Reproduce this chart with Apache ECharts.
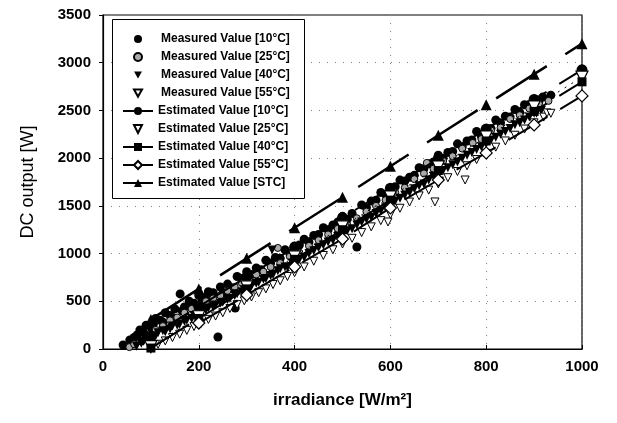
<!DOCTYPE html>
<html>
<head>
<meta charset="utf-8">
<script src="https://cdn.jsdelivr.net/npm/echarts@6/dist/echarts.min.js"></script>
<style>html,body{margin:0;padding:0;background:#fff}#c{width:617px;height:423px}</style>
</head>
<body>
<div id="c"></div>
<script>
var xTicks = [0, 200, 400, 600, 800, 1000];
var yTicks = [0, 500, 1000, 1500, 2000, 2500, 3000, 3500];

var meas10 = [[42,42],[56,94],[71,147],[77,200],[90,250],[100,230],[110,320],[120,300],[130,380],[140,350],[150,420],[161,577],[170,440],[180,500],[190,480],[200,560],[210,540],[220,600],[230,590],[240,126],[245,650],[260,680],[276,430],[280,760],[290,740],[300,810],[320,850],[340,930],[360,960],[380,1040],[400,1080],[420,1150],[440,1190],[460,1270],[480,1300],[500,1390],[520,1420],[530,1069],[540,1510],[560,1550],[580,1640],[600,1680],[620,1770],[640,1800],[660,1900],[680,1940],[700,2030],[720,2060],[740,2150],[760,2180],[780,2280],[800,2310],[820,2400],[840,2440],[860,2510],[880,2560],[900,2620],[918,2640],[935,2660],
  [65,120],[85,170],[105,260],[125,280],[145,330],[165,400],[185,450],[205,480],[225,530],[250,580],[270,640],[310,780],[330,830],[350,900],[370,950],[390,1000],[410,1090],[430,1120],[450,1200],[470,1250],[490,1330],[510,1360],[550,1480],[570,1560],[590,1620],[610,1700],[630,1760],[650,1820],[670,1890],[690,1960],[710,2000],[730,2070],[750,2120],[770,2190],[790,2230],[810,2310],[830,2370],[850,2430],[870,2480],[890,2560],[910,2590]];

var meas25 = [[55,20],[65,50],[80,80],[95,130],[110,200],[125,240],[140,300],[155,330],[170,380],[185,420],[200,460],[215,500],[230,530],[245,560],[260,610],[275,650],[290,690],[305,720],[320,780],[335,810],[350,860],[365,1059],[370,900],[390,970],[410,1010],[430,1080],[450,1140],[470,1200],[490,1260],[510,1300],[530,1370],[550,1440],[570,1500],[590,1560],[610,1640],[630,1690],[650,1780],[676,1950],[670,1840],[690,1890],[710,1970],[730,2020],[750,2100],[772,2159],[790,2200],[810,2290],[830,2320],[850,2410],[870,2450],[890,2520],[910,2570],[930,2600]];

var meas40 = [[70,30],[85,80],[100,120],[115,170],[130,180],[145,240],[160,260],[175,300],[190,350],[205,380],[220,430],[235,460],[250,490],[265,530],[280,580],[295,620],[310,660],[325,700],[340,740],[353,1037],[355,780],[370,840],[385,860],[400,910],[420,960],[440,1030],[460,1090],[480,1140],[500,1210],[520,1260],[540,1330],[560,1380],[580,1450],[600,1510],[620,1580],[640,1640],[660,1710],[680,1770],[700,1840],[720,1900],[740,1960],[760,2030],[780,2090],[800,2150],[820,2220],[840,2280],[860,2350],[880,2400],[900,2470],[915,2500],
  [80,60],[95,100],[110,140],[125,190],[140,210],[155,250],[170,290],[185,320],[200,380],[215,410],[230,440],[245,480],[260,520],[275,560],[290,600],[305,650],[320,690],[335,730],[350,770],[365,820],[380,860],[395,900],[410,940],[430,1000],[450,1060],[470,1120],[490,1180],[510,1240],[530,1300],[550,1360],[570,1420],[590,1480],[610,1550],[630,1610],[650,1680],[670,1730],[690,1810],[710,1870],[730,1930],[750,2000],[770,2060],[790,2120],[810,2190],[830,2250],[850,2310],[870,2370],[890,2430],[905,2470]];

var meas55 = [[100,20],[115,50],[130,85],[145,120],[160,155],[175,195],[190,235],[205,270],[220,310],[235,345],[250,380],[265,425],[280,465],[295,505],[310,545],[325,590],[340,630],[355,675],[370,715],[385,760],[400,800],[420,860],[440,920],[460,980],[480,1040],[500,1100],[520,1160],[540,1220],[560,1280],[580,1345],[595,1331],[600,1410],[620,1475],[640,1540],[660,1605],[680,1665],[693,1541],[700,1730],[720,1795],[740,1860],[756,1771],[760,1920],[780,1985],[800,2050],[820,2115],[840,2180],[860,2240],[880,2305],[900,2370],[920,2430],[927,2474],[935,2470]];

var est10 = [[100,135],[200,445],[300,755],[400,1065],[500,1375],[600,1685],[700,1995],[800,2305],[900,2615],[1000,2925]];
var est25 = [[100,24],[200,338],[300,652],[400,966],[500,1280],[600,1594],[700,1908],[800,2222],[900,2536],[1000,2850]];
var est40 = [[100,10],[200,320],[300,630],[400,940],[500,1250],[600,1560],[700,1870],[800,2180],[900,2490],[1000,2800]];
var est55 = [[200,272],[300,566],[400,860],[500,1153],[600,1478],[700,1771],[800,2055],[900,2348],[1000,2652]];
var estSTC = [[100,310],[200,630],[300,950],[400,1270],[500,1590],[600,1915],[700,2240],[800,2560],[900,2880],[1000,3200]];

var names = ['Measured Value [10°C]','Measured Value [25°C]','Measured Value [40°C]','Measured Value [55°C]',
  'Estimated Value [10°C]','Estimated Value [25°C]','Estimated Value [40°C]','Estimated Value [55°C]','Estimated Value [STC]'];

var FONT = 'Liberation Sans, Arial, sans-serif';
var chart = echarts.init(document.getElementById('c'), null, {renderer:'canvas'});

var DOWN = 'path://M0,0 L10,0 L5,9 Z';

function scat(name, data, symbol, size, color, border) {
  return {name:name, type:'scatter', data:data, symbol:symbol, symbolSize:size,
    itemStyle:{color:color, borderColor:border||color, borderWidth:border?1:0, opacity:1}, z:2, animation:false};
}
function est(name, data, symbol, size, color, border, dash, width, rot) {
  return {name:name, type:'line', data:data, symbol:symbol, symbolSize:size, symbolRotate:rot||0, showAllSymbol:true,
    lineStyle:{color:'#000', width:width, type:dash},
    itemStyle:{color:color, borderColor:border||color, borderWidth:border?1.2:0, opacity:1}, z:3, animation:false};
}

var textStyle = {fontFamily:FONT, fontWeight:'bold', fontSize:12, color:'#000'};

chart.setOption({
  backgroundColor:'#fff',
  animation:false,
  grid:{left:103, right:35, top:15, bottom:74, show:true, borderColor:'#000', borderWidth:1.2, backgroundColor:'transparent'},
  graphic:[{type:'rect', left:112, top:19, z:10, shape:{width:192, height:179},
    style:{fill:'#fff', stroke:'#000', lineWidth:1}}],
  legend:[{
    orient:'vertical', left:133, top:33, padding:0, itemGap:6, itemWidth:8, itemHeight:8, z:20,
    textStyle:Object.assign({padding:[0,0,0,14]}, textStyle),
    data:[
      {name:names[0], icon:'circle'},
      {name:names[1], icon:'circle'},
      {name:names[2], icon:DOWN},
      {name:names[3], icon:DOWN}
    ]
  },{
    orient:'vertical', left:122, top:105, padding:0, itemGap:6, itemWidth:30, itemHeight:10, z:20,
    textStyle:textStyle,
    lineStyle:{type:'solid', width:2},
    data:[
      {name:names[4]},
      {name:names[5], lineStyle:{opacity:0}},
      {name:names[6]},
      {name:names[7]},
      {name:names[8]}
    ]
  }],
  xAxis:{type:'value', min:0, max:1000, interval:200,
    name:'irradiance [W/m²]', nameLocation:'middle', nameGap:43,
    nameTextStyle:{fontFamily:FONT, fontWeight:'bold', fontSize:17, color:'#000'},
    axisLine:{lineStyle:{color:'#000', width:1.2}},
    axisTick:{inside:true, length:4, lineStyle:{color:'#000'}},
    axisLabel:{fontFamily:FONT, fontWeight:'bold', fontSize:15, color:'#000', margin:10,
      formatter:function(v){ return xTicks.indexOf(v) >= 0 ? String(v) : ''; }},
    splitLine:{show:true, lineStyle:{color:'#888', type:[1,7], width:1}}
  },
  yAxis:{type:'value', min:0, max:3500, interval:500,
    name:'DC output [W]', nameLocation:'middle', nameGap:66,
    nameTextStyle:{fontFamily:FONT, fontSize:18, color:'#000'},
    axisLine:{lineStyle:{color:'#000', width:1.2}},
    axisTick:{length:4, lineStyle:{color:'#000'}},
    axisLabel:{fontFamily:FONT, fontWeight:'bold', fontSize:15, color:'#000', margin:12,
      formatter:function(v){ return yTicks.indexOf(v) >= 0 ? String(v) : ''; }},
    splitLine:{show:true, lineStyle:{color:'#888', type:[1,7], width:1}}
  },
  series:[
    scat(names[0], meas10, 'circle', 9, '#000', null),
    scat(names[1], meas25, 'circle', 7, '#aaa', '#000'),
    scat(names[2], meas40, DOWN, 9, '#000', null),
    scat(names[3], meas55, DOWN, 8, '#fff', '#000'),
    est(names[4], est10, 'circle', 11, '#000', null, [45,15], 2),
    est(names[5], est25, 'triangle', 12, '#fff', '#000', [2,6], 1, 180),
    est(names[6], est40, 'rect', 9, '#000', null, [45,15], 2),
    est(names[7], est55, 'diamond', 12, '#fff', '#000', [45,15], 2),
    est(names[8], estSTC, 'triangle', 11, '#000', null, [60,22], 2.5)
  ]
});
</script>
</body>
</html>
